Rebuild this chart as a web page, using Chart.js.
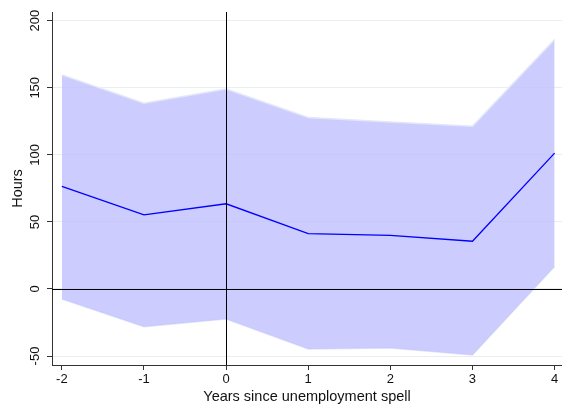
<!DOCTYPE html>
<html>
<head>
<meta charset="utf-8">
<script src="https://cdn.jsdelivr.net/npm/chart.js@4"></script>
<style>
  body { margin: 0; background: #fff; }
  canvas { display: block; }
</style>
</head>
<body>
<canvas id="myChart" width="562" height="410"></canvas>
<script>
var years = [-2, -1, 0, 1, 2, 3, 4];
var estimate = [76.5, 55.3, 63.5, 41.3, 40, 35.6, 101.3];
var upper = [159.6, 138.5, 149, 127.8, 124.5, 121.3, 186];
var lower = [-7.5, -28.2, -22.4, -44.8, -44.1, -49.3, 16.7];
var yTicks = [-50, 0, 50, 100, 150, 200];
var xTicks = [-2, -1, 0, 1, 2, 3, 4];

var FONT = "'Liberation Sans', Arial, sans-serif";

function pts(vals) {
    return years.map(function (x, i) { return {x: x, y: vals[i]}; });
}

// y tick labels are rotated like the original, drawn at the scale's own positions
var rotatedYLabels = {
    id: 'rotatedYLabels',
    afterDraw: function (chart) {
        var c = chart.ctx, y = chart.scales.y;
        c.save();
        c.fillStyle = '#111';
        c.font = '13px ' + FONT;
        c.textAlign = 'center';
        c.textBaseline = 'middle';
        yTicks.forEach(function (v) {
            c.save();
            c.translate(35, y.getPixelForValue(v));
            c.rotate(-Math.PI / 2);
            c.fillText(String(v), 0, 0);
            c.restore();
        });
        c.restore();
    }
};

// black reference lines at x = 0 and y = 0
var refLines = {
    id: 'refLines',
    afterDatasetsDraw: function (chart) {
        var c = chart.ctx, a = chart.chartArea;
        var px = Math.round(chart.scales.x.getPixelForValue(0)) + 0.5;
        var py = Math.round(chart.scales.y.getPixelForValue(0)) + 0.5;
        c.save();
        c.strokeStyle = '#000';
        c.lineWidth = 1;
        c.beginPath();
        c.moveTo(px, a.top);
        c.lineTo(px, a.bottom);
        c.moveTo(a.left, py);
        c.lineTo(a.right, py);
        c.stroke();
        c.restore();
    }
};

var ctx = document.getElementById('myChart').getContext('2d');
var myChart = new Chart(ctx, {
    type: 'line',
    data: {
        datasets: [{
            data: pts(upper),
            fill: '+1',
            backgroundColor: 'rgba(190, 190, 255, 0.78)',
            borderColor: '#e3e7f7',
            borderWidth: 1.5,
            pointRadius: 0,
            order: 2
        }, {
            data: pts(lower),
            fill: false,
            borderColor: '#e3e7f7',
            borderWidth: 1.5,
            pointRadius: 0,
            order: 2
        }, {
            data: pts(estimate),
            fill: false,
            borderColor: '#0000ff',
            borderWidth: 1.3,
            pointRadius: 0,
            order: 0
        }]
    },
    options: {
        responsive: false,
        animation: false,
        devicePixelRatio: 1,
        layout: { padding: { top: 12, right: 0, left: 0, bottom: 0 } },
        plugins: { legend: { display: false }, tooltip: { enabled: false } },
        scales: {
            x: {
                type: 'linear',
                min: -2.12,
                max: 4.09,
                afterBuildTicks: function (s) { s.ticks = xTicks.map(function (v) { return {value: v}; }); },
                afterFit: function (s) { s.height = 45; },
                grid: { color: 'rgba(0,0,0,0)', tickColor: '#333', tickLength: 5 },
                border: { color: '#333', width: 1 },
                ticks: { color: '#111', font: { family: FONT, size: 13 }, padding: 2, maxRotation: 0 },
                title: { display: true, text: 'Years since unemployment spell', color: '#111',
                         font: { family: FONT, size: 14.5 }, padding: { top: 0, bottom: 4 } }
            },
            y: {
                min: -56.7,
                max: 206.5,
                afterBuildTicks: function (s) { s.ticks = yTicks.map(function (v) { return {value: v}; }); },
                afterFit: function (s) { s.width = 52; },
                grid: { color: '#e8eff1', tickColor: '#333', tickLength: 5 },
                border: { color: '#333', width: 1 },
                ticks: { display: false },
                title: { display: true, text: 'Hours', color: '#111',
                         font: { family: FONT, size: 14.5 }, padding: { top: 9, bottom: 0 } }
            }
        }
    },
    plugins: [rotatedYLabels, refLines]
});
</script>
</body>
</html>
